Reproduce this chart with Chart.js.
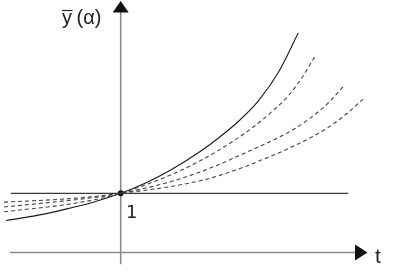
<!DOCTYPE html>
<html>
<head>
<meta charset="utf-8">
<script src="https://cdn.jsdelivr.net/npm/chart.js@4.4.0/dist/chart.umd.min.js"></script>
<style>
  html, body { margin: 0; padding: 0; background: #fff; }
  #wrap { width: 415px; height: 275px; }
</style>
</head>
<body>
<div id="wrap"><canvas id="c" width="415" height="275"></canvas></div>
<script>
// ---- data (t = time, value = ȳ(α)) ----
const solidT   = [-1.95, -1.483, -0.983, -0.483, 0, 0.433, 0.85, 1.35, 1.683, 2.017, 2.35, 2.683, 3.017];
const solidV   = [0.541, 0.615, 0.721, 0.844, 1, 1.179, 1.393, 1.705, 1.951, 2.230, 2.574, 3.049, 3.705];

const dashAT   = [-1.983, -0.983, -0.483, 0, 0.433, 0.85, 1.35, 1.683, 2.017, 2.3, 2.567, 2.85, 3.067, 3.3];
const dashAV   = [0.689, 0.803, 0.885, 1, 1.148, 1.311, 1.549, 1.738, 1.951, 2.156, 2.377, 2.648, 2.934, 3.311];

const dashBT   = [-1.983, -0.983, -0.483, 0, 0.85, 1.35, 1.683, 2.183, 2.683, 2.967, 3.233, 3.517, 3.8];
const dashBV   = [0.770, 0.869, 0.926, 1, 1.197, 1.361, 1.492, 1.713, 1.943, 2.098, 2.279, 2.516, 2.820];

const dashCT   = [-1.983, -0.983, -0.483, 0, 0.85, 1.35, 1.683, 2.133, 2.4, 2.683, 2.967, 3.233, 3.517, 3.85, 4.117];
const dashCV   = [0.852, 0.902, 0.943, 1, 1.115, 1.213, 1.303, 1.459, 1.566, 1.680, 1.811, 1.943, 2.107, 2.352, 2.590];

const levelT   = [-1.867, 3.867];   // horizontal reference line ȳ = 1
const levelV   = [1, 1];
const pointT   = [0];
const pointV   = [1];

const yLabel   = "y";
const yLabelArg = "(α)";
const xLabel   = "t";
const oneLabel = "1";

const xRange = [-119/60, 296/60];
const yRange = [-19/61, 256/61];

function pts(ts, vs) { return ts.map((t, i) => ({ x: t, y: vs[i] })); }

const axesPlugin = {
  id: 'axesPlugin',
  beforeDraw(chart) {
    const ctx = chart.ctx;
    ctx.save();
    ctx.fillStyle = '#fff';
    ctx.fillRect(0, 0, chart.width, chart.height);
    ctx.restore();
  },
  beforeDatasetsDraw(chart) {
    const ctx = chart.ctx;
    const xs = chart.scales.x, ys = chart.scales.y;
    const x0 = xs.getPixelForValue(0);
    const y0 = ys.getPixelForValue(0);
    ctx.save();
    ctx.strokeStyle = '#8a8a8a';
    ctx.lineWidth = 1.6;
    // vertical axis
    ctx.beginPath();
    ctx.moveTo(x0, ys.getPixelForValue(-0.197));
    ctx.lineTo(x0, 10);
    ctx.stroke();
    // horizontal axis
    ctx.beginPath();
    ctx.moveTo(xs.getPixelForValue(-1.883), y0);
    ctx.lineTo(357, y0);
    ctx.stroke();
    // arrowheads
    ctx.fillStyle = '#111';
    ctx.beginPath();
    ctx.moveTo(x0, 1);
    ctx.lineTo(x0 - 8, 12.5);
    ctx.lineTo(x0 + 8, 12.5);
    ctx.closePath();
    ctx.fill();
    ctx.beginPath();
    ctx.moveTo(367.5, y0);
    ctx.lineTo(355, y0 - 8);
    ctx.lineTo(355, y0 + 8);
    ctx.closePath();
    ctx.fill();
    ctx.restore();
  },
  afterDraw(chart) {
    const ctx = chart.ctx;
    ctx.save();
    ctx.fillStyle = '#222';
    ctx.textBaseline = 'alphabetic';
    ctx.textAlign = 'left';
    ctx.font = '20px "Liberation Sans", Arial, sans-serif';
    ctx.fillText(yLabel, 62, 24);
    const yw = ctx.measureText(yLabel).width;
    ctx.fillText(yLabelArg, 76.5, 24);
    // overline over y
    ctx.strokeStyle = '#222';
    ctx.lineWidth = 1.2;
    ctx.beginPath();
    ctx.moveTo(62, 10.5);
    ctx.lineTo(62 + yw + 0.5, 10.5);
    ctx.stroke();
    ctx.font = '21px "Liberation Sans", Arial, sans-serif';
    ctx.fillText(xLabel, 375, 263);
    ctx.font = '18px "DejaVu Sans", sans-serif';
    ctx.fillText(oneLabel, 126, 218);
    ctx.restore();
  }
};

new Chart(document.getElementById('c'), {
  type: 'scatter',
  data: {
    datasets: [
      { data: pts(levelT, levelV), showLine: true, borderColor: '#3a3a3a', borderWidth: 1.4, pointRadius: 0 },
      { data: pts(dashCT, dashCV), showLine: true, borderColor: '#444', borderWidth: 1.1, borderDash: [4, 3], pointRadius: 0, cubicInterpolationMode: 'monotone' },
      { data: pts(dashBT, dashBV), showLine: true, borderColor: '#444', borderWidth: 1.1, borderDash: [4, 3], pointRadius: 0, cubicInterpolationMode: 'monotone' },
      { data: pts(dashAT, dashAV), showLine: true, borderColor: '#444', borderWidth: 1.1, borderDash: [4, 3], pointRadius: 0, cubicInterpolationMode: 'monotone' },
      { data: pts(solidT, solidV), showLine: true, borderColor: '#1a1a1a', borderWidth: 1.1, pointRadius: 0, cubicInterpolationMode: 'monotone' },
      { data: pts(pointT, pointV), showLine: false, pointRadius: 3, backgroundColor: '#111', borderColor: '#111', borderWidth: 0 }
    ]
  },
  options: {
    responsive: false,
    animation: false,
    events: [],
    layout: { padding: 0 },
    plugins: { legend: { display: false }, tooltip: { enabled: false } },
    scales: {
      x: { type: 'linear', display: false, min: xRange[0], max: xRange[1] },
      y: { type: 'linear', display: false, min: yRange[0], max: yRange[1] }
    },
    elements: { line: { fill: false } }
  },
  plugins: [axesPlugin]
});
</script>
</body>
</html>
